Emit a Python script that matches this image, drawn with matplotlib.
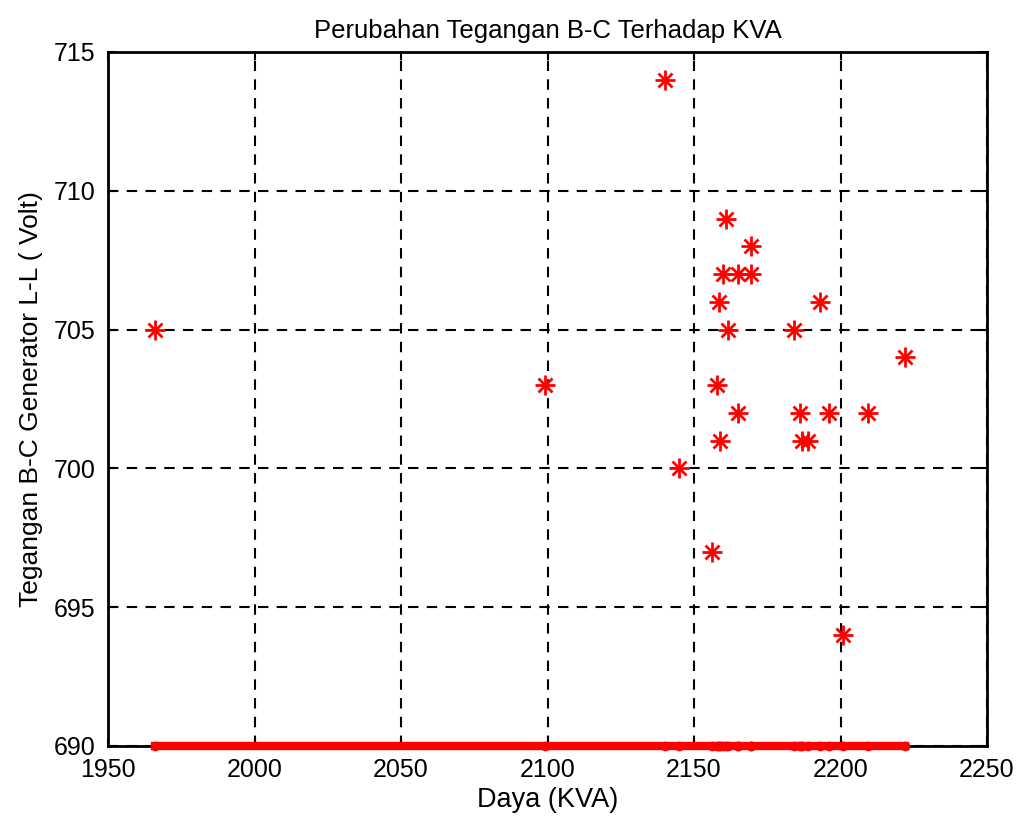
import matplotlib
matplotlib.use("Agg")
import matplotlib.pyplot as plt
import numpy as np

plt.rcParams['font.family'] = ['Liberation Sans', 'DejaVu Sans']

# data
daya = [1966, 2099, 2140, 2145, 2156, 2158.5, 2158, 2159, 2161, 2160, 2165,
        2169.5, 2169.5, 2161.5, 2165, 2184, 2186, 2187, 2189, 2193, 2196,
        2201, 2209.5, 2222]
tegangan = [705, 703, 714, 700, 697, 706, 703, 701, 709, 707, 707,
            707, 708, 705, 702, 705, 702, 701, 701, 706, 702,
            694, 702, 704]
batas = [690] * len(daya)

fig = plt.figure(figsize=(10.24, 8.24), dpi=100)
ax = fig.add_axes([0.1055, 0.0947, 0.8584, 0.8422])

xs = np.sort(daya)
ax.plot(xs, batas, color='red', lw=6, clip_on=False, zorder=3)
ax.plot(xs, batas, 'o', color='red', ms=7, mew=0, clip_on=False, zorder=3)
# asterisk marker = plus + cross
ax.plot(daya, tegangan, 'r+', ms=14, mew=2, zorder=3)
ax.plot(daya, tegangan, 'rx', ms=10, mew=2, zorder=3)

ax.set_xlim(1950, 2250)
ax.set_ylim(690, 715)
ax.set_xticks(np.arange(1950, 2251, 50))
ax.set_yticks(np.arange(690, 716, 5))
ax.grid(True, color='black', linestyle=(0, (5, 4)), linewidth=1.5)
ax.tick_params(direction='in', length=6, width=1.5, top=True, right=True,
               labelsize=18, pad=9)
for s in ax.spines.values():
    s.set_linewidth(2)

ax.set_title("Perubahan Tegangan B-C Terhadap KVA", fontsize=18.5, pad=10)
ax.set_xlabel("Daya (KVA)", fontsize=19.5, labelpad=3)
ax.set_ylabel("Tegangan B-C Generator L-L ( Volt)", fontsize=19, labelpad=8)

fig.savefig("out.png", dpi=100)
